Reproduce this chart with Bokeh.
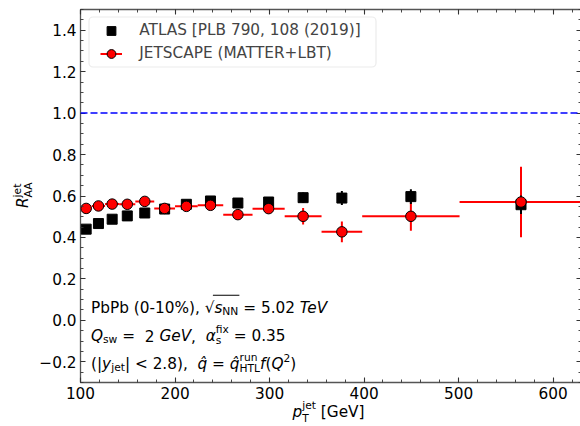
import numpy as np
from bokeh.plotting import figure
from bokeh.layouts import column, row
from bokeh.models import (Range1d, FixedTicker, LinearAxis, Label, Span, Legend, LegendItem, Div,
                          ColumnDataSource, BoxAnnotation, CustomJSTickFormatter, CustomLabelingPolicy)
from bokeh.embed import file_html
from bokeh.resources import INLINE

# ---------------- data ----------------
pt_center = [106, 119, 133.5, 149.5, 168, 189, 212, 237.5, 266.5, 299, 335.5, 376.5, 449.5, 566]
pt_low = [100, 112, 126, 141, 158, 178, 200, 224, 251, 282, 316, 355, 398, 501]
pt_high = [112, 126, 141, 158, 178, 200, 224, 251, 282, 316, 355, 398, 501, 631]
atlas_raa = [0.44, 0.467, 0.488, 0.504, 0.518, 0.537, 0.56, 0.576, 0.566, 0.571, 0.592, 0.59, 0.597, 0.558]
atlas_err = [0.01, 0.01, 0.01, 0.01, 0.01, 0.01, 0.01, 0.012, 0.015, 0.02, 0.025, 0.034, 0.036, 0.045]
jetscape_raa = [0.54, 0.552, 0.561, 0.56, 0.574, 0.54, 0.55, 0.555, 0.51, 0.539, 0.502, 0.427, 0.502, 0.571]
jetscape_err = [0.008, 0.008, 0.008, 0.008, 0.01, 0.01, 0.012, 0.013, 0.015, 0.02, 0.04, 0.05, 0.07, 0.17]
x_ticks = [100, 200, 300, 400, 500, 600]
y_ticks = [-0.2, 0.0, 0.2, 0.4, 0.6, 0.8, 1.0, 1.2, 1.4]
x_minor = list(range(100, 640, 20))
y_minor = [round(-0.3 + 0.05 * i, 2) for i in range(37)]

# ---------------- layout ----------------
YW = 36            # width of the y-label strip (left)
XH = 22            # height of the x-label strip (bottom)
FW, FH = 501, 373
BL, BT, BR, BB = 78 - YW, 9, 1, 426 - XH - 9 - 373
X0, X1 = 100, 630
Y0, Y1 = -0.3, 1.5
FONT = "DejaVu Sans"
F = 15.3
S = round(0.7 * F, 1)

fig = figure(frame_width=FW, frame_height=FH, x_range=Range1d(X0, X1), y_range=Range1d(Y0, Y1),
             output_backend="svg", toolbar_location=None, margin=0,
             min_border_left=BL, min_border_right=BR, min_border_top=BT, min_border_bottom=BB)
fig.background_fill_color = "white"
fig.border_fill_color = "white"
fig.xgrid.visible = False
fig.ygrid.visible = False
fig.outline_line_color = "#555555"
fig.outline_line_width = 1.3

bottom_axis = fig.below[0]
left_axis = fig.left[0]

xt = FixedTicker(ticks=x_ticks, minor_ticks=x_minor)
yt = FixedTicker(ticks=y_ticks, minor_ticks=y_minor)
yfmt = CustomJSTickFormatter(code="return (tick < -1e-9 ? '\\u2212' : '') + Math.abs(tick).toFixed(1);")

top_axis = LinearAxis(ticker=xt)
right_axis = LinearAxis(ticker=yt)
fig.add_layout(top_axis, "above")
fig.add_layout(right_axis, "right")
bottom_axis.ticker = xt
left_axis.ticker = yt
left_axis.formatter = yfmt

for ax in [bottom_axis, left_axis, top_axis, right_axis]:
    ax.axis_line_color = None
    ax.major_tick_in = 5
    ax.major_tick_out = 0
    ax.minor_tick_in = 3
    ax.minor_tick_out = 0
    ax.major_tick_line_color = "#333333"
    ax.minor_tick_line_color = "#333333"
    ax.major_tick_line_width = 1.1
    ax.minor_tick_line_width = 0.9
    ax.major_label_text_font = FONT
    ax.major_label_text_font_size = f"{F}px"
    ax.major_label_text_color = "black"
bottom_axis.major_label_standoff = 4
left_axis.major_label_standoff = 4
for ax in [top_axis, right_axis]:
    ax.major_label_standoff = 0
    ax.major_label_text_font_size = "1px"
    try:
        ax.major_label_text_color = None
    except Exception:
        ax.major_label_policy = CustomLabelingPolicy(
            code="for (const i of Array.from(indices)) { indices.unset(i) }\nreturn indices")

# page px -> data (figure canvas starts at page x = YW)
FR_L, FR_T = 78, BT
def dxp(px):
    return X0 + (px - FR_L) * (X1 - X0) / FW
def dyp(py):
    return Y1 - (py - FR_T) * (Y1 - Y0) / FH

# ---------------- glyphs ----------------
src = ColumnDataSource(dict(
    pt=pt_center, lo=pt_low, hi=pt_high,
    a=atlas_raa, a_lo=[v - e for v, e in zip(atlas_raa, atlas_err)], a_hi=[v + e for v, e in zip(atlas_raa, atlas_err)],
    j=jetscape_raa, j_lo=[v - e for v, e in zip(jetscape_raa, jetscape_err)], j_hi=[v + e for v, e in zip(jetscape_raa, jetscape_err)],
))

fig.add_layout(Span(location=1.0, dimension="width", line_color="#0000ff", line_dash="7 3", line_width=1.5))

js_h = fig.segment(x0="lo", y0="j", x1="hi", y1="j", source=src, line_color="red", line_width=2)
js_v = fig.segment(x0="pt", y0="j_lo", x1="pt", y1="j_hi", source=src, line_color="red", line_width=2)
at_v = fig.segment(x0="pt", y0="a_lo", x1="pt", y1="a_hi", source=src, line_color="black", line_width=2)
at_sq = fig.scatter(x="pt", y="a", source=src, marker="square", size=10, fill_color="black", line_color="black")
js_c = fig.scatter(x="pt", y="j", source=src, marker="circle", size=10.5, fill_color="red", line_color="black", line_width=1)

# ---------------- legend ----------------
fig.add_layout(BoxAnnotation(left=dxp(86.5), right=dxp(373.5), top=dyp(16.5), bottom=dyp(66.5),
                             fill_color="white", fill_alpha=0.8, line_color="#bdbdbd", line_width=1.2,
                             border_radius=4))
legend = Legend(items=[LegendItem(label="ATLAS [PLB 790, 108 (2019)]", renderers=[at_sq]),
                       LegendItem(label="JETSCAPE (MATTER+LBT)", renderers=[js_h, js_c])],
                location=(20.3, 317.5), orientation="vertical", border_line_color=None,
                background_fill_alpha=0, padding=0, spacing=0, margin=0,
                glyph_width=22, glyph_height=23, label_height=23, label_standoff=17,
                label_text_font=FONT, label_text_font_size=f"{F}px", label_text_baseline="middle")
fig.add_layout(legend)

# ---------------- rich text helpers ----------------
W = {' ': .318, '.': .318, ',': .318, '(': .390, ')': .390, '[': .390, ']': .390, '%': .950, '-': .361,
     '=': .838, '<': .838, '|': .337, '+': .838, '\u221a': .636, '\u03b1': .660, '\u0302': 0.0,
     'A': .684, 'B': .686, 'E': .632, 'G': .775, 'H': .752, 'J': .295, 'L': .557, 'M': .863, 'N': .748,
     'P': .603, 'Q': .787, 'R': .695, 'S': .635, 'T': .611, 'V': .684,
     'a': .613, 'b': .635, 'e': .615, 'f': .352, 'i': .278, 'j': .278, 'n': .634, 'p': .635, 'q': .635,
     'r': .411, 's': .521, 't': .392, 'u': .634, 'w': .818, 'x': .592, 'y': .592}
for d in "0123456789":
    W[d] = .636

def tw(t, size):
    return sum(W.get(c, 0.6) for c in t) * size

def layout_parts(parts):
    """return (text, size, italic, shift, offset_along) pieces and spans"""
    pos = 0.0
    out, spans = [], []
    for part in parts:
        group = part if isinstance(part, list) else [part]
        adv = 0.0
        for (t, size, it, shift) in group:
            core = t.strip(" ")
            lead = tw(t[:len(t) - len(t.lstrip(" "))], size)
            if core:
                out.append((core, size, it, shift, pos + lead))
            adv = max(adv, tw(t, size))
        spans.append((pos, pos + adv))
        pos += adv
    return out, spans

def rich_svg(parts, px, py):
    out, spans = layout_parts(parts)
    for (t, size, it, shift, off) in out:
        fig.add_layout(Label(x=dxp(px + off), y=dyp(py - shift), text=t, text_font=FONT,
                             text_font_size=f"{size}px", text_font_style="italic" if it else "normal",
                             text_color="black", text_align="left", text_baseline="alphabetic"))
    return spans

ASC = 0.846  # baseline offset (em) inside a line box with line-height = font-size

def span_html(t, size, it, left, top):
    style = (f"position:absolute;left:{left:.2f}px;top:{top:.2f}px;font-size:{size}px;"
             f"line-height:{size}px;white-space:pre;font-style:{'italic' if it else 'normal'};")
    return f'<span style="{style}">{t}</span>'

SUB, SUP, SUB2, SUP2 = -3.5, 6.5, -4.0, 6.8

L1X, L1Y = 88.5, 307.5
line1 = [("PbPb (0-10%), ", F, False, 0), ("\u221a", F, False, 0), ("s", F, True, 0),
         ("NN", S, False, SUB), (" = 5.02 ", F, False, 0), ("TeV", F, True, 0)]
sp = rich_svg(line1, L1X, L1Y)
# radical overbar
fig.add_layout(BoxAnnotation(left=dxp(L1X + sp[1][1] - 1.5), right=dxp(L1X + sp[3][1] + 1),
                             top=dyp(L1Y - 13.2), bottom=dyp(L1Y - 12.2),
                             fill_color="black", fill_alpha=1.0, line_color=None))

line2 = [("Q", F, True, 0), ("sw", S, False, SUB), (" = ", F, False, 0), (" 2 ", F, False, 0),
         ("GeV", F, True, 0), (", ", F, False, 0), (" ", F, False, 0), ("\u03b1", F, True, 0),
         [("s", S, False, SUB2), ("fix", S, False, SUP2)], (" = 0.35", F, False, 0)]
rich_svg(line2, 88.5, 335.5)

line3 = [("(|", F, False, 0), ("y", F, True, 0), ("jet", S, False, SUB), ("| < 2.8), ", F, False, 0),
         (" ", F, False, 0), ("q\u0302", F, True, 0), (" = ", F, False, 0), ("q\u0302", F, True, 0),
         [("HTL", S, False, SUB2), ("run", S, False, SUP2)], ("f", F, True, 0), ("(", F, False, 0),
         ("Q", F, True, 0), ("2", S, False, SUP), (")", F, False, 0)]
rich_svg(line3, 88.5, 363.5)

# ---------------- axis labels as HTML strips ----------------
FIG_H = BT + FH + BB          # figure height
# x label: strip below the figure, page y from FIG_H to 426
xlab_parts = [("p", F, True, 0), [("T", S, False, -5.3), ("jet", S, False, 7.3)], (" [GeV]", F, False, 0)]
XL_X, XL_BASE = 292.5, 417.5
out, _ = layout_parts(xlab_parts)
xs = "".join(span_html(t, size, it, XL_X + off, (XL_BASE - shift - FIG_H) - ASC * size)
             for (t, size, it, shift, off) in out)
xdiv = Div(text=f'<div style="position:relative;width:580px;height:{XH}px;font-family:\'{FONT}\';color:black;">{xs}</div>',
           width=580, height=XH, margin=0, styles={"overflow": "visible"})

# y label: rotated, in the strip left of the figure
ylab_parts = [("R", F, True, 0), [("AA", S, False, SUB2), ("jet", S, False, SUP2)]]
YL_XBASE, YL_START = 29.0, 207.6
out, _ = layout_parts(ylab_parts)
ys = "".join(span_html(t, size, it, off, (YL_XBASE - shift) - ASC * size)
             for (t, size, it, shift, off) in out)
ydiv = Div(text=(f'<div style="position:relative;width:{YW}px;height:{FIG_H}px;font-family:\'{FONT}\';color:black;">'
                 f'<div style="position:absolute;left:0px;top:{YL_START}px;width:0px;height:0px;'
                 f'transform-origin:0 0;transform:rotate(-90deg);">{ys}</div></div>'),
           width=YW, height=FIG_H, margin=0)

p = column(row(ydiv, fig, spacing=0, margin=0), xdiv, spacing=0, margin=0)

open("out.html", "w").write(file_html(p, INLINE))
